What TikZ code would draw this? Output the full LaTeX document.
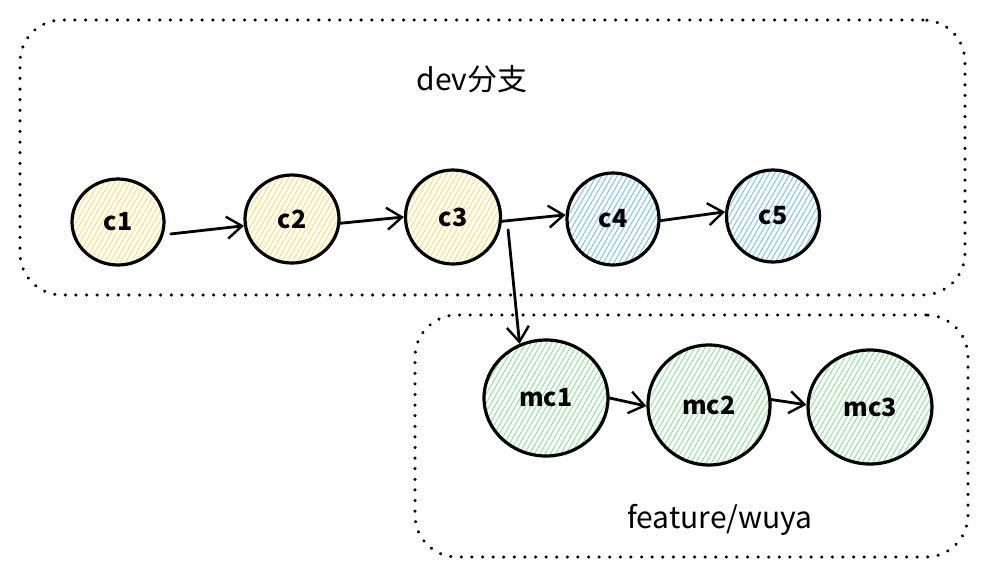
\documentclass[tikz,border=0pt]{standalone}
\usepackage{fontspec}
\setmainfont{Noto Sans CJK SC}
\usetikzlibrary{shapes.geometric,arrows.meta,patterns.meta}
\definecolor{yel}{HTML}{FFE070}
\definecolor{blu}{HTML}{7CC2FF}
\definecolor{grn}{HTML}{8EE69A}
\tikzset{
  grpbox/.style={draw=black, line width=3.4pt, line cap=round, dash pattern=on 0.1pt off 10.5pt, rounded corners=42pt, inner sep=0pt},
  commit/.style={ellipse, draw=black, line width=3.2pt, inner sep=0pt, font=\fontsize{25}{27}\selectfont\bfseries},
  ycommit/.style={commit, pattern={Lines[angle=60,distance=4.5pt,line width=1pt]}, pattern color=yel},
  bcommit/.style={commit, pattern={Lines[angle=60,distance=4.5pt,line width=1pt]}, pattern color=blu},
  gcommit/.style={commit, pattern={Lines[angle=60,distance=4.5pt,line width=1pt]}, pattern color=grn},
  arr/.style={draw=black, line width=2.8pt, line cap=round, -{Straight Barb[length=15pt,width=22pt,line width=2.4pt]}},
  lbl/.style={font=\fontsize{30}{32}\selectfont, inner sep=0pt}
}
\begin{document}
\begin{tikzpicture}[x=1pt,y=-1pt]
\useasboundingbox (0,0) rectangle (987,579);
\node[grpbox, minimum width=945pt, minimum height=275pt] (dev) at (492.5,157.5) {};
\node[grpbox, minimum width=553pt, minimum height=242pt] (feat) at (691.5,436) {};
\node[lbl] (devlbl) at (472,79) {dev分支};
\node[lbl] (featlbl) at (720,520) {feature/wuya};

\node[ycommit, minimum width=92pt, minimum height=86pt] (c1) at (118,222) {c1};
\node[ycommit, minimum width=94pt, minimum height=88pt] (c2) at (292,219) {c2};
\node[ycommit, minimum width=95pt, minimum height=94pt] (c3) at (453,217) {c3};
\node[bcommit, minimum width=92pt, minimum height=92pt] (c4) at (613,219) {c4};
\node[bcommit, minimum width=93pt, minimum height=92pt] (c5) at (773,216) {c5};

\node[gcommit, minimum width=124pt, minimum height=116pt] (mc1) at (546,398) {mc1};
\node[gcommit, minimum width=122pt, minimum height=120pt] (mc2) at (709,405) {mc2};
\node[gcommit, minimum width=124pt, minimum height=114pt] (mc3) at (870,407) {mc3};

\draw[arr] ([xshift=8pt]c1.-15) -- (c2.188);
\draw[arr] (c2.-5) -- (c3.180);
\draw[arr] (c3.-5) -- (c4.175);
\draw[arr] (c4.-2) -- (c5.175);
\draw[arr] ([xshift=9pt,yshift=4pt]c3.-20) -- (mc1.116);
\draw[arr] (mc1.0) -- (mc2.181);
\draw[arr] (mc2.5) -- (mc3.178);
\end{tikzpicture}
\end{document}
